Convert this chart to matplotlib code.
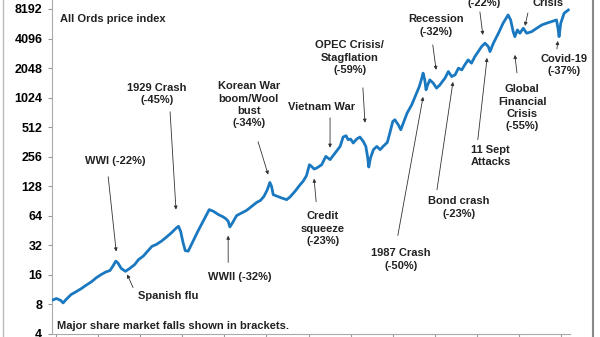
import numpy as np
import matplotlib.pyplot as plt
from matplotlib.lines import Line2D

plt.rcParams["font.family"] = ["Liberation Sans", "DejaVu Sans"]
plt.rcParams["font.weight"] = "bold"

# All Ords price index (log scale)
years = [1899.0, 1900.1, 1901.1, 1901.7, 1902.4, 1903.6, 1904.8, 1906.0, 1907.2, 1908.4,
         1909.6, 1910.8, 1911.9, 1912.8, 1913.5, 1914.2, 1914.7, 1915.5, 1916.5, 1917.5,
         1918.7, 1919.6, 1920.7, 1921.9, 1922.8, 1923.8, 1925.0, 1926.2, 1927.4, 1928.6,
         1929.1, 1929.6, 1930.2, 1930.7, 1931.4, 1933.7, 1934.9, 1936.4, 1937.4, 1938.6,
         1939.7, 1940.4, 1940.9, 1941.3, 1942.0, 1942.9, 1944.1, 1945.3, 1946.5, 1947.7,
         1948.6, 1949.4, 1950.2, 1950.8, 1951.2, 1951.6, 1952.6, 1953.6, 1954.8, 1955.6,
         1956.8, 1958.0, 1958.7, 1959.5, 1960.2, 1960.7, 1961.3, 1961.9, 1963.1, 1964.1,
         1965.1, 1966.3, 1967.5, 1968.2, 1968.9, 1969.4, 1970.0, 1970.6, 1971.4, 1972.2,
         1973.0, 1973.6, 1974.0, 1974.3, 1974.7, 1975.4, 1976.2, 1977.0, 1977.7, 1978.7,
         1979.3, 1980.0, 1980.5, 1981.3, 1981.9, 1982.5, 1983.4, 1984.5, 1985.5, 1986.3,
         1986.9, 1987.2, 1987.6, 1987.9, 1988.3, 1988.8, 1989.6, 1990.4, 1991.2, 1992.4,
         1993.2, 1994.0, 1994.8, 1995.6, 1996.4, 1997.1, 1997.9, 1998.7, 1999.5, 2000.3,
         2001.1, 2001.9, 2002.7, 2003.1, 2003.9, 2005.1, 2006.2, 2007.4, 2008.0, 2008.6,
         2009.0, 2009.6, 2010.2, 2011.0, 2011.8, 2013.0, 2014.2, 2015.4, 2016.5, 2017.7,
         2018.9, 2019.3, 2019.5, 2019.9, 2020.7, 2021.7]
index_vals = [8.8, 9.2, 8.8, 8.3, 9.0, 10.1, 10.8, 11.6, 12.6, 13.6,
              15.0, 16.2, 17.2, 17.7, 19.6, 22.1, 21.2, 18.6, 17.4, 18.6,
              20.4, 22.9, 24.8, 28.3, 31.3, 32.6, 35.2, 38.7, 42.9, 48.2,
              50.0, 44.5, 33.9, 28.3, 27.9, 44.5, 55.9, 74.0, 71.1, 65.8,
              62.4, 59.5, 56.3, 49.3, 54.9, 64.3, 68.5, 72.8, 79.9, 87.8,
              92.0, 101, 118, 140, 128, 105, 101, 97.3, 93.5, 99.7,
              114, 133, 144, 164, 212, 204, 192, 196, 212, 258,
              239, 279, 326, 406, 419, 381, 387, 353, 387, 406,
              366, 326, 258, 201, 248, 302, 326, 302, 326, 358,
              446, 585, 609, 542, 482, 564, 712, 865, 1094, 1328,
              1617, 1818, 1553, 1230, 1382, 1553, 1439, 1279, 1382, 1617,
              1887, 1679, 1746, 2043, 1963, 2207, 2481, 2297, 2682, 3013,
              3388, 3670, 3388, 3013, 3670, 4638, 5862, 7118, 6330, 4814,
              4282, 5013, 4638, 5215, 4638, 4814, 5215, 5630, 5862, 6086,
              6330, 5013, 4282, 5862, 7410, 8000]

# label, text centre (year, value), arrow start, arrow tip
notes = [
    ("1929 Crash\n(-45%)", (1924.0, 1120), (1927.1, 734), (1928.5, 74)),
    ("WWI (-22%)", (1914.0, 233), (1912.4, 160), (1914.3, 27.7)),
    ("Spanish flu", (1926.6, 9.65), (1918.3, 11.9), (1916.9, 16.2)),
    ("WWII (-32%)", (1943.7, 15.4), (1940.9, 21.4), (1940.9, 40.2)),
    ("Korean War\nboom/Wool\nbust\n(-34%)", (1945.8, 865), (1948.0, 364), (1950.4, 168)),
    ("Vietnam War", (1963.2, 826), (1965.1, 638), (1965.1, 316)),
    ("OPEC Crisis/\nStagflation\n(-59%)", (1969.8, 2601), (1972.9, 1288), (1973.4, 568)),
    ("Credit\nsqueeze\n(-23%)", (1963.4, 47.4), (1961.8, 89), (1961.3, 153)),
    ("1987 Crash\n(-50%)", (1981.9, 22.9), (1981.2, 40.3), (1987.2, 1043)),
    ("Recession\n(-32%)", (1990.3, 5568), (1989.5, 3527), (1990.3, 1963)),
    ("Bond crash\n(-23%)", (1995.7, 77.5), (1990.5, 118), (1994.3, 1482)),
    ("Tech wreck\n(-22%)", (2001.7, 10970), (2000.7, 7640), (2001.4, 4457)),
    ("11 Sept\nAttacks", (2003.3, 259), (2000.2, 381), (2002.4, 2601)),
    ("Global\nFinancial\nCrisis\n(-55%)", (2010.7, 806), (2009.5, 1830), (2009.0, 2790)),
    ("Euro debt\nCrisis", (2016.9, 10970), (2012.1, 7458), (2011.4, 5502)),
    ("Covid-19\n(-37%)", (2020.7, 2207), (2019.0, 3211), (2019.2, 3871)),
]

fig = plt.figure(figsize=(6, 3.37), dpi=100)
ax = fig.add_axes([52 / 600, 1 - 334 / 337, 518 / 600, 334 / 337])

ax.plot(years, index_vals, color="#1a78c0", lw=2.0, zorder=3)

ax.set_yscale("log", base=2)
ax.set_ylim(4, 10111)
ax.set_xlim(1899.05, 2022.1)

yt = [2 ** k for k in range(2, 14)]
ax.set_yticks(yt)
ax.set_yticklabels([str(v) for v in yt], fontsize=9, fontweight="bold")
ax.yaxis.set_minor_locator(plt.NullLocator())
ax.set_xticks(np.arange(1900, 2030, 10))
ax.tick_params(axis="x", labelbottom=False, length=3, color="#999999")
ax.tick_params(axis="y", length=3, color="#999999", pad=4)

for s in ["top", "right"]:
    ax.spines[s].set_visible(False)
for s in ["left", "bottom"]:
    ax.spines[s].set_color("#aaaaaa")
    ax.spines[s].set_linewidth(0.8)

for label, txt, start, tip in notes:
    ax.text(txt[0], txt[1], label, ha="center", va="center", fontsize=8,
            fontweight="bold", linespacing=1.3, color="#222222")
    ax.annotate("", xy=tip, xytext=start,
                arrowprops=dict(arrowstyle="-|>", color="#333333", lw=0.6,
                                mutation_scale=5, shrinkA=0, shrinkB=0))

fig.text(60 / 600, 1 - 19 / 337, "All Ords price index", fontsize=8,
         fontweight="bold", va="center", color="#222222")
fig.text(57 / 600, 1 - 326 / 337, "Major share market falls shown in brackets.",
         fontsize=8, fontweight="bold", va="center", color="#222222")

fig.add_artist(Line2D([2.5 / 600, 2.5 / 600], [0, 1], color="#bbbbbb", lw=1))
fig.add_artist(Line2D([593 / 600, 593 / 600], [0, 1], color="#888888", lw=1.5))

fig.savefig("out.png", dpi=100)
